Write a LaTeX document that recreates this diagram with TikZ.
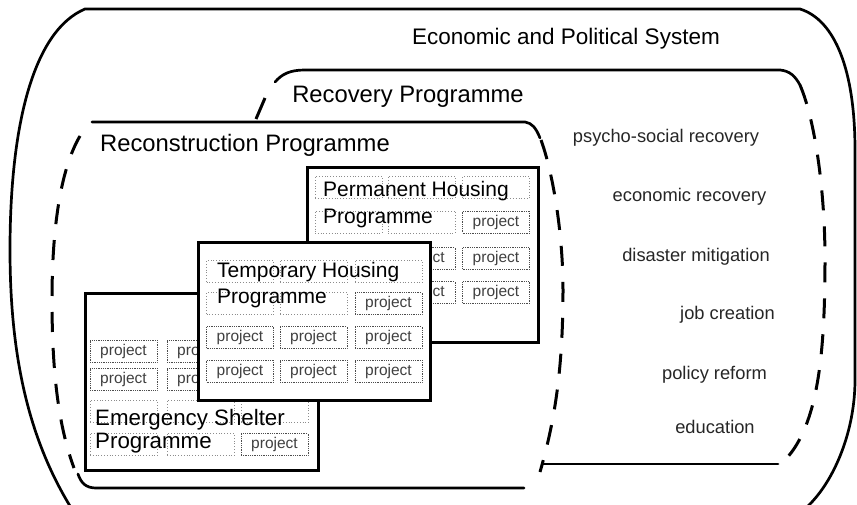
\documentclass[tikz,border=0pt]{standalone}
\usepackage{fontspec}
\setmainfont{Liberation Sans}
\begin{document}
\begin{tikzpicture}[x=1pt,y=-1pt,
  solidln/.style={line width=2.7pt, line cap=round},
  dashln/.style={line width=3pt, dash pattern=on 20pt off 16pt},
  pbox/.style={draw, line width=3pt, fill=white, inner sep=0pt},
  cell/.style={draw=black!45, dotted, line width=0.8pt, minimum width=67pt, minimum height=22pt, inner sep=0pt},
  proj/.style={cell, draw=black!70, densely dotted, font=\fontsize{15.5}{18}\selectfont, text=black!75},
  biglab/.style={font=\fontsize{23.8}{28}\selectfont, inner sep=0pt},
  lab/.style={font=\fontsize{21}{25}\selectfont, inner sep=0pt, anchor=west},
  item/.style={font=\fontsize{18.3}{21}\selectfont, text=black!85, inner sep=0pt}]
\useasboundingbox (0,0) rectangle (857,505);

% outer: Economic and Political System
\draw[solidln] (70,506) .. controls (30,440) and (10,360) .. (10,250)
  .. controls (10,120) and (35,30) .. (85,9) -- (800,9)
  .. controls (835,20) and (855,70) .. (855,150) -- (855,380)
  .. controls (855,430) and (835,480) .. (808,506);
\node[biglab, font=\fontsize{22.5}{27}\selectfont] (econ) at (566,39) {Economic and Political System};

% Recovery Programme
\draw[solidln] (275,82) .. controls (282,74) and (290,70) .. (305,70) -- (780,70)
  .. controls (790,71) and (795,76) .. (800,85);
\draw[dashln] (800,85) .. controls (815,120) and (825,190) .. (825,260)
  .. controls (825,360) and (817,430) .. (782,463);
\draw[solidln] (778,464) -- (543,464);
\draw[line width=3pt] (265,98) -- (256,119);
\node[biglab] (recov) at (408,97) {Recovery Programme};

% Reconstruction Programme
\draw[solidln] (92,122) -- (525,122) .. controls (532,123) and (536,128) .. (540,138);
\draw[dashln] (80,136) .. controls (60,170) and (52,230) .. (52,300)
  .. controls (52,380) and (60,430) .. (74,468);
\draw[solidln] (78,474) .. controls (81,483) and (86,488) .. (96,488) -- (524,488);
\draw[dashln] (541,140) .. controls (552,170) and (563,230) .. (563,290)
  .. controls (563,380) and (552,430) .. (540,472);
\node[biglab] (recon) at (245,145) {Reconstruction Programme};

% right-hand items
\node[item] (i1) at (666,138) {psycho-social recovery};
\node[item] (i2) at (689.5,197) {economic recovery};
\node[item] (i3) at (696,257) {disaster mitigation};
\node[item] (i4) at (727.5,315) {job creation};
\node[item] (i5) at (714.5,375) {policy reform};
\node[item] (i6) at (715,427) {education};

% Permanent Housing Programme (back)
\node[pbox, minimum width=231pt, minimum height=174pt] (perm) at (422.5,255) {};
\node[cell] (pa1) at (348.5,187.5) {};
\node[cell] (pa2) at (421.5,187.5) {};
\node[cell] (pa3) at (496,187.5) {};
\node[cell] (pb1) at (348.5,222) {};
\node[cell] (pb2) at (421.5,222) {};
\node[proj] (pb3) at (496,222) {project};
\node[proj] (pc2) at (421.5,258.5) {project};
\node[proj] (pc3) at (496,258.5) {project};
\node[proj] (pd2) at (421.5,292.5) {project};
\node[proj] (pd3) at (496,292.5) {project};
\node[lab] (permt1) at (323,191) {Permanent Housing};
\node[lab] (permt2) at (323,218) {Programme};

% Emergency Shelter Programme (middle)
\node[pbox, minimum width=233pt, minimum height=177pt] (emer) at (201.5,381.5) {};
\node[proj] (ea1) at (123.5,351) {project};
\node[proj] (ea2) at (200.5,351) {project};
\node[proj] (eb1) at (123.5,379) {project};
\node[proj] (eb2) at (200.5,379) {project};
\node[cell] (ec1) at (123.5,411.5) {};
\node[cell] (ec2) at (200.5,411.5) {};
\node[cell] (ec3) at (274.5,411.5) {};
\node[cell] (ed1) at (123.5,444.5) {};
\node[cell] (ed2) at (200.5,444.5) {};
\node[proj] (ed3) at (274.5,444.5) {project};
\node[lab, font=\fontsize{22.3}{26}\selectfont] (emert1) at (95,420) {Emergency Shelter};
\node[lab, font=\fontsize{22.3}{26}\selectfont] (emert2) at (95,443) {Programme};

% Temporary Housing Programme (front)
\node[pbox, minimum width=232pt, minimum height=157pt] (temp) at (314,321.5) {};
\node[cell] (ta1) at (240,271.5) {};
\node[cell] (ta2) at (313.5,271.5) {};
\node[cell] (ta3) at (388.5,271.5) {};
\node[cell] (tb1) at (240,303.5) {};
\node[cell] (tb2) at (313.5,303.5) {};
\node[proj] (tb3) at (388.5,303.5) {project};
\node[proj] (tc1) at (240,337.5) {project};
\node[proj] (tc2) at (313.5,337.5) {project};
\node[proj] (tc3) at (388.5,337.5) {project};
\node[proj] (td1) at (240,371) {project};
\node[proj] (td2) at (313.5,371) {project};
\node[proj] (td3) at (388.5,371) {project};
\node[lab] (tempt1) at (217,272) {Temporary Housing};
\node[lab] (tempt2) at (217,298) {Programme};
\end{tikzpicture}
\end{document}
